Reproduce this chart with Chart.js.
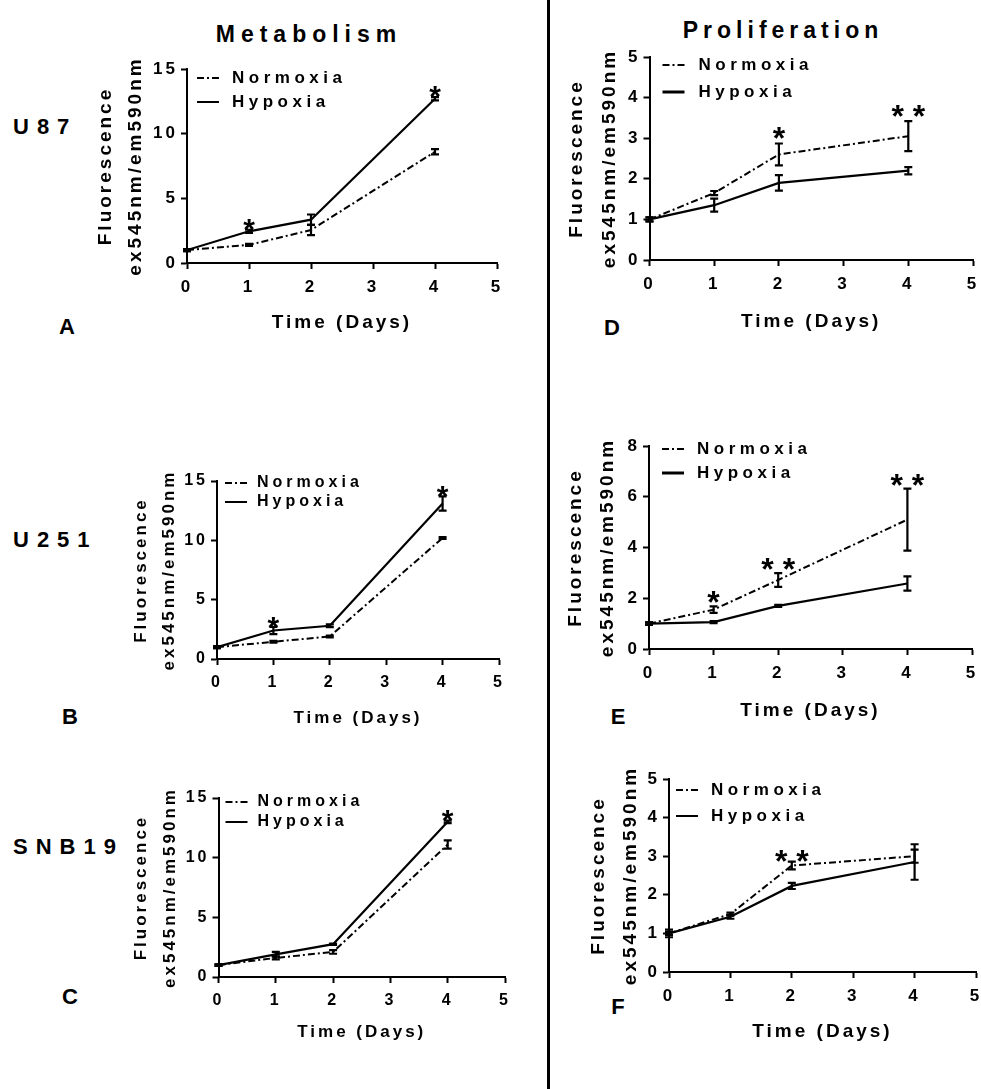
<!DOCTYPE html>
<html>
<head>
<meta charset="utf-8">
<script src="https://cdn.jsdelivr.net/npm/chart.js@4"></script>
<style>
  body { margin: 0; background: #fff; width: 981px; height: 1089px; position: relative; overflow: hidden;
         font-family: "Liberation Sans", Arial, sans-serif; font-weight: bold; color: #000; }
  canvas { position: absolute; }
  .lbl { position: absolute; white-space: nowrap; line-height: 1; }
  .c { transform: translate(-50%, -50%); }
  .row { transform: translateY(-50%); font-size: 22px; letter-spacing: 8px; }
  .letter { font-size: 22px; }
  #divider { position: absolute; left: 547px; top: 0; width: 3px; height: 1089px; background: #000; }
</style>
</head>
<body>
<div class="lbl c" style="left:309px;top:34px;font-size:23px;letter-spacing:6px;">Metabolism</div>
<div class="lbl c" style="left:783px;top:30px;font-size:23px;letter-spacing:5px;">Proliferation</div>
<div class="lbl row" style="left:13px;top:127px;">U87</div>
<div class="lbl row" style="left:13px;top:540px;">U251</div>
<div class="lbl row" style="left:13px;top:847px;">SNB19</div>
<div class="lbl c letter" style="left:67px;top:327px;">A</div>
<div class="lbl c letter" style="left:70px;top:717px;">B</div>
<div class="lbl c letter" style="left:70px;top:997px;">C</div>
<div class="lbl c letter" style="left:612px;top:328px;">D</div>
<div class="lbl c letter" style="left:618px;top:717px;">E</div>
<div class="lbl c letter" style="left:618px;top:1007px;">F</div>
<div id="divider"></div>

<canvas id="chartA"></canvas>
<canvas id="chartB"></canvas>
<canvas id="chartC"></canvas>
<canvas id="chartD"></canvas>
<canvas id="chartE"></canvas>
<canvas id="chartF"></canvas>

<script>
const seriesNames = ['Normoxia', 'Hypoxia'];
const days = [0, 1, 2, 4];
const dayTicks = [0, 1, 2, 3, 4, 5];
const metTicks = [0, 5, 10, 15];
const proTicks = [0, 1, 2, 3, 4, 5];
const proTicksE = [0, 2, 4, 6, 8];

// A: U87 metabolism
const u87MetNorm = [1.0, 1.4, 2.55, 8.6];
const u87MetNormErr = [0.08, 0.08, 0.4, 0.2];
const u87MetHyp = [1.0, 2.45, 3.35, 12.7];
const u87MetHypErr = [0.08, 0.12, 0.4, 0.13];
const u87MetStars = ['', '*', '', '*'];

// B: U251 metabolism
const u251MetNorm = [1.0, 1.45, 1.9, 10.2];
const u251MetNormErr = [0.08, 0.08, 0.08, 0.08];
const u251MetHyp = [1.0, 2.4, 2.8, 13.1];
const u251MetHypErr = [0.08, 0.3, 0.12, 0.6];
const u251MetStars = ['', '*', '', '*'];

// C: SNB19 metabolism
const snb19MetNorm = [1.0, 1.6, 2.1, 11.1];
const snb19MetNormErr = [0.06, 0.12, 0.15, 0.35];
const snb19MetHyp = [1.0, 1.9, 2.75, 13.0];
const snb19MetHypErr = [0.06, 0.2, 0.05, 0.1];
const snb19MetStars = ['', '', '', '*'];

// D: U87 proliferation
const u87ProNorm = [1.0, 1.65, 2.6, 3.05];
const u87ProNormErr = [0.05, 0.05, 0.27, 0.37];
const u87ProHyp = [1.0, 1.35, 1.9, 2.2];
const u87ProHypErr = [0.05, 0.16, 0.19, 0.09];
const u87ProStars = ['', '', '*', '* *'];

// E: U251 proliferation
const u251ProNorm = [1.0, 1.55, 2.72, 5.1];
const u251ProNormErr = [0.05, 0.13, 0.27, 1.22];
const u251ProHyp = [1.0, 1.06, 1.7, 2.58];
const u251ProHypErr = [0.05, 0.04, 0.04, 0.28];
const u251ProStars = ['', '*', '* *', '* *'];

// F: SNB19 proliferation
const snb19ProNorm = [1.0, 1.5, 2.76, 3.0];
const snb19ProNormErr = [0.1, 0.04, 0.1, 0.17];
const snb19ProHyp = [1.0, 1.43, 2.23, 2.85];
const snb19ProHypErr = [0.04, 0.05, 0.08, 0.46];
const snb19ProStars = ['', '', '* *', ''];

const FAMILY = '"Liberation Sans", Arial, sans-serif';
Chart.defaults.font.family = FAMILY;
Chart.defaults.font.weight = 'bold';
Chart.defaults.color = '#000';

// letter spacing for the axis text (Prism look)
const spacing = {
  id: 'spacing',
  beforeDraw(chart) { chart.ctx.letterSpacing = '3px'; }
};

const errorBars = {
  id: 'errorBars',
  afterDatasetsDraw(chart) {
    const { ctx, scales: { x, y } } = chart;
    ctx.save();
    ctx.strokeStyle = '#000';
    ctx.lineWidth = 2.2;
    chart.data.datasets.forEach(ds => {
      ds.data.forEach((pt, i) => {
        const e = ds.err[i];
        const px = x.getPixelForValue(pt.x);
        const top = y.getPixelForValue(pt.y + e);
        const bot = y.getPixelForValue(pt.y - e);
        ctx.beginPath();
        ctx.moveTo(px, top); ctx.lineTo(px, bot);
        ctx.moveTo(px - 4, top); ctx.lineTo(px + 4, top);
        ctx.moveTo(px - 4, bot); ctx.lineTo(px + 4, bot);
        ctx.stroke();
      });
    });
    ctx.restore();
  }
};

const insetLegend = {
  id: 'insetLegend',
  afterDraw(chart, args, o) {
    const { ctx, chartArea: a } = chart;
    ctx.save();
    ctx.font = `bold ${o.size}px ${FAMILY}`;
    ctx.letterSpacing = o.spacing + 'px';
    ctx.fillStyle = '#000';
    ctx.strokeStyle = '#000';
    ctx.textBaseline = 'middle';
    chart.data.datasets.forEach((ds, i) => {
      const yy = a.top + o.dy + i * o.gap;
      const x0 = a.left + o.dx;
      ctx.beginPath();
      ctx.setLineDash(ds.borderDash || []);
      ctx.lineWidth = o.widths[i];
      ctx.moveTo(x0, yy);
      ctx.lineTo(x0 + 22, yy);
      ctx.stroke();
      ctx.setLineDash([]);
      ctx.fillText(ds.label, x0 + o.textDx, yy);
    });
    ctx.restore();
  }
};

const stars = {
  id: 'stars',
  afterDatasetsDraw(chart, args, o) {
    const { ctx, scales: { x, y } } = chart;
    ctx.save();
    ctx.font = `bold ${o.size}px ${FAMILY}`;
    ctx.letterSpacing = '0px';
    ctx.fillStyle = '#000';
    ctx.textAlign = 'center';
    ctx.textBaseline = 'alphabetic';
    o.labels.forEach((txt, i) => {
      if (!txt) return;
      let top = Infinity;
      chart.data.datasets.forEach(ds => {
        top = Math.min(top, y.getPixelForValue(ds.data[i].y + ds.err[i]));
      });
      const m = ctx.measureText(txt);
      const cy = top - o.gap;
      const base = cy + (m.actualBoundingBoxAscent - m.actualBoundingBoxDescent) / 2;
      ctx.fillText(txt, x.getPixelForValue(days[i]), base);
    });
    ctx.restore();
  }
};

function panel(id, p) {
  const cv = document.getElementById(id);
  const padT = 14, padR = 14;
  const left = p.titleX - p.titleLH / 2;
  const top = p.plot.t - padT;
  const xLH = 22;
  const xH = p.xTitleBelow + xLH / 2;
  cv.width = Math.round(p.plot.r + padR - left);
  cv.height = Math.round(p.plot.b + xH - top);
  cv.style.left = left + 'px';
  cv.style.top = top + 'px';
  const yW = p.plot.l - left;
  const gridOpts = { drawOnChartArea: false, drawTicks: true, tickLength: 6, tickColor: '#000', tickWidth: 2, color: '#000' };

  return new Chart(cv, {
    type: 'line',
    data: {
      datasets: [
        {
          label: seriesNames[0],
          data: days.map((d, i) => ({ x: d, y: p.norm[i] })),
          err: p.normErr,
          borderColor: '#000', borderWidth: 2, borderDash: [7, 3, 2, 3],
          pointRadius: 0, fill: false, tension: 0
        },
        {
          label: seriesNames[1],
          data: days.map((d, i) => ({ x: d, y: p.hyp[i] })),
          err: p.hypErr,
          borderColor: '#000', borderWidth: 2.2,
          pointRadius: 0, fill: false, tension: 0
        }
      ]
    },
    options: {
      responsive: false,
      animation: false,
      events: [],
      layout: { padding: { top: padT, right: padR, left: 0, bottom: 0 } },
      plugins: {
        legend: { display: false },
        tooltip: { enabled: false },
        insetLegend: p.legend,
        stars: { labels: p.stars, size: p.starSize, gap: p.starGap }
      },
      scales: {
        x: {
          type: 'linear', min: 0, max: 5,
          afterBuildTicks: s => { s.ticks = dayTicks.map(v => ({ value: v })); },
          afterFit: s => { s.height = xH; },
          border: { display: true, color: '#000', width: 2 },
          grid: gridOpts,
          ticks: { color: '#000', font: { size: p.tickSize, weight: 'bold' }, padding: 8, maxRotation: 0 },
          title: { display: true, text: 'Time (Days)', color: '#000', padding: 0,
                   font: { size: p.titleSize, weight: 'bold', lineHeight: xLH / p.titleSize } }
        },
        y: {
          type: 'linear', min: p.yTicks[0], max: p.yTicks[p.yTicks.length - 1],
          afterBuildTicks: s => { s.ticks = p.yTicks.map(v => ({ value: v })); },
          afterFit: s => { s.width = yW; },
          border: { display: true, color: '#000', width: 2 },
          grid: gridOpts,
          ticks: { color: '#000', font: { size: p.tickSize, weight: 'bold' }, padding: 3 },
          title: { display: true, text: ['Fluorescence', 'ex545nm/em590nm'], color: '#000', padding: 0,
                   font: { size: p.titleSize, weight: 'bold', lineHeight: p.titleLH / p.titleSize } }
        }
      }
    },
    plugins: [spacing, errorBars, insetLegend, stars]
  });
}

panel('chartA', {
  plot: { l: 187, r: 497, t: 69, b: 263 }, titleX: 106, titleLH: 30, xTitleBelow: 60,
  tickSize: 17, titleSize: 19, yTicks: metTicks,
  norm: u87MetNorm, normErr: u87MetNormErr, hyp: u87MetHyp, hypErr: u87MetHypErr,
  stars: u87MetStars, starGap: 5, starSize: 30,
  legend: { dx: 10, dy: 9, gap: 24, textDx: 35, size: 17, spacing: 4.5, widths: [2, 2] }
});
panel('chartB', {
  plot: { l: 217, r: 499, t: 481, b: 659 }, titleX: 141, titleLH: 28, xTitleBelow: 59,
  tickSize: 16, titleSize: 17, yTicks: metTicks,
  norm: u251MetNorm, normErr: u251MetNormErr, hyp: u251MetHyp, hypErr: u251MetHypErr,
  stars: u251MetStars, starGap: 4, starSize: 30,
  legend: { dx: 8, dy: 2, gap: 19, textDx: 32, size: 16, spacing: 4, widths: [2, 2] }
});
panel('chartC', {
  plot: { l: 218, r: 504, t: 798, b: 977 }, titleX: 141, titleLH: 29, xTitleBelow: 55,
  tickSize: 16, titleSize: 17, yTicks: metTicks,
  norm: snb19MetNorm, normErr: snb19MetNormErr, hyp: snb19MetHyp, hypErr: snb19MetHypErr,
  stars: snb19MetStars, starGap: 5, starSize: 30,
  legend: { dx: 7, dy: 4, gap: 20, textDx: 32, size: 16, spacing: 4, widths: [2, 2] }
});
panel('chartD', {
  plot: { l: 649, r: 972, t: 57, b: 260 }, titleX: 576, titleLH: 33, xTitleBelow: 62,
  tickSize: 17, titleSize: 19, yTicks: proTicks,
  norm: u87ProNorm, normErr: u87ProNormErr, hyp: u87ProHyp, hypErr: u87ProHypErr,
  stars: u87ProStars, starGap: 10, starSize: 32,
  legend: { dx: 13, dy: 8, gap: 27, textDx: 36, size: 17, spacing: 4.5, widths: [2, 3] }
});
panel('chartE', {
  plot: { l: 649, r: 972, t: 446, b: 649 }, titleX: 576, titleLH: 32, xTitleBelow: 62,
  tickSize: 17, titleSize: 19, yTicks: proTicksE,
  norm: u251ProNorm, normErr: u251ProNormErr, hyp: u251ProHyp, hypErr: u251ProHypErr,
  stars: u251ProStars, starGap: 9, starSize: 32,
  legend: { dx: 13, dy: 3, gap: 24, textDx: 35, size: 17, spacing: 4.5, widths: [2, 3] }
});
panel('chartF', {
  plot: { l: 669, r: 976, t: 779, b: 972 }, titleX: 599, titleLH: 32, xTitleBelow: 60,
  tickSize: 17, titleSize: 19, yTicks: proTicks,
  norm: snb19ProNorm, normErr: snb19ProNormErr, hyp: snb19ProHyp, hypErr: snb19ProHypErr,
  stars: snb19ProStars, starGap: 6, starSize: 32,
  legend: { dx: 7, dy: 11, gap: 26, textDx: 35, size: 17, spacing: 4.5, widths: [2, 2] }
});
</script>
</body>
</html>
